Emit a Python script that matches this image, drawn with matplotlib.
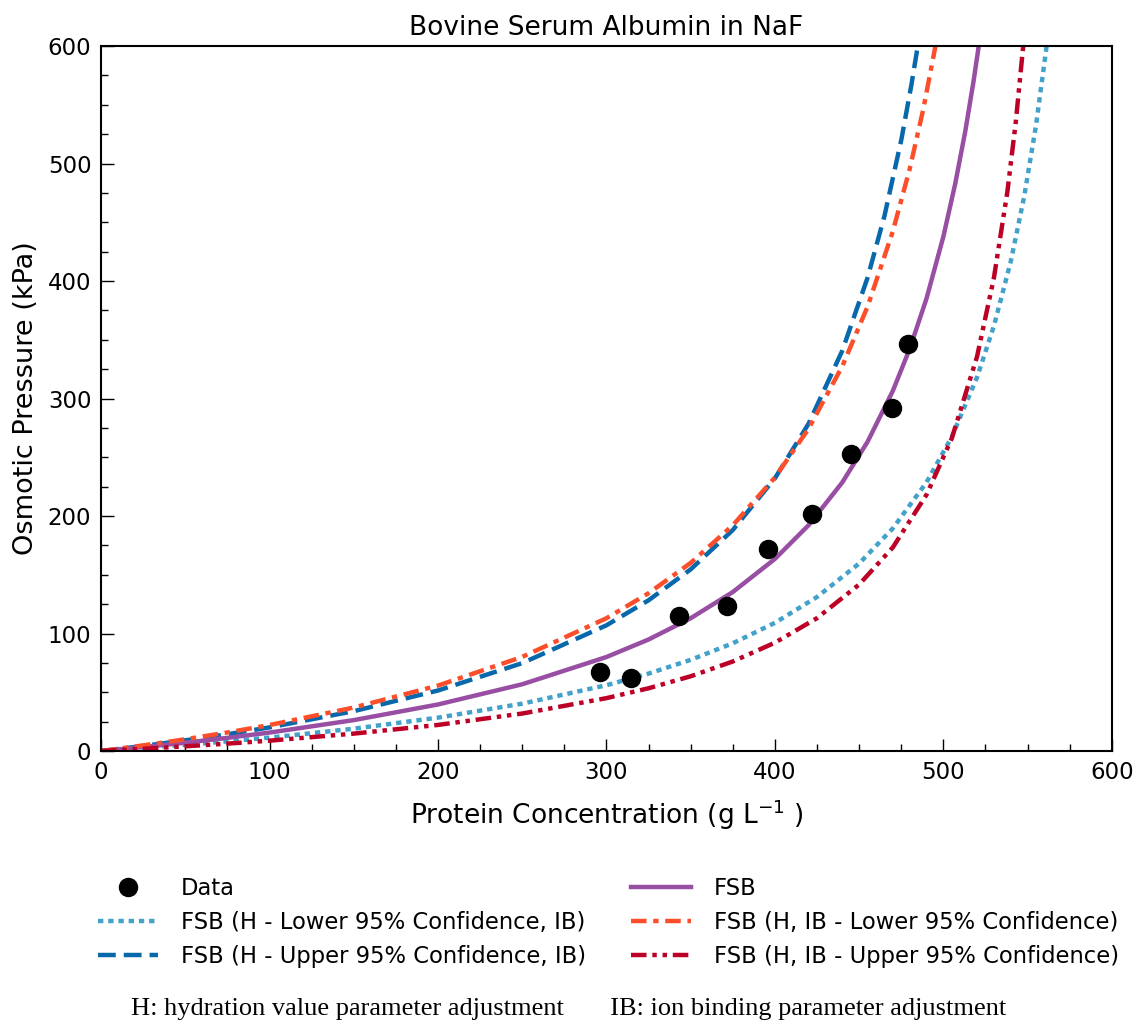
import matplotlib
matplotlib.use('Agg')
import matplotlib.pyplot as plt
from matplotlib.ticker import MultipleLocator

# measured osmotic pressure
data_conc = [296, 314.5, 343, 371.5, 396, 422, 445, 469.5, 479]
data_pres = [67, 62, 115, 123, 172, 202, 253, 292, 346]

# FSB fit
fsb_x = [0, 25, 50, 75, 100, 150, 200, 250, 300, 325, 350, 375, 400, 420, 440, 455,
         470, 480, 490, 500, 507, 513, 518, 521]
fsb_y = [0, 3.4, 7.1, 11.2, 15.7, 26.3, 39.6, 56.8, 80, 94.9, 113, 135.3, 163.5, 192.2,
         228.6, 263.2, 306.5, 342.2, 385.1, 437.8, 482.5, 527.4, 570.8, 600]

# FSB (H - Lower 95% Confidence, IB)
hlow_x = [0, 25, 50, 75, 100, 150, 200, 250, 300, 325, 350, 375, 400, 425, 450, 470,
          490, 505, 520, 530, 540, 548, 555, 561.3]
hlow_y = [0, 2.5, 5.2, 8.2, 11.4, 19, 28.4, 40.3, 56, 65.9, 77.6, 91.7, 109.1, 131.1,
          159.6, 189.5, 228.7, 267.4, 318.1, 361.7, 416.6, 472.1, 532.5, 600]

# FSB (H - Upper 95% Confidence, IB)
hup_x = [0, 25, 50, 75, 100, 150, 200, 250, 300, 325, 350, 375, 400, 420, 440, 455,
         465, 475, 481, 484.8]
hup_y = [0, 4.3, 9.1, 14.3, 20.1, 33.9, 51.5, 74.8, 107, 128.3, 154.6, 188.1, 232.1,
         278.6, 340.7, 402.8, 455.2, 519.9, 566.7, 600]

# FSB (H, IB - Lower 95% Confidence)
iblow_x = [0, 25, 50, 75, 100, 150, 200, 250, 300, 325, 350, 375, 400, 420, 440, 455,
           470, 480, 488, 495.3]
iblow_y = [0, 4.8, 10, 15.8, 22.1, 37, 55.7, 80.1, 113, 134.3, 160.1, 192.1, 232.8,
           274.3, 327.5, 378.2, 442.3, 495.3, 545.7, 600]

# FSB (H, IB - Upper 95% Confidence)
ibup_x = [0, 25, 50, 75, 100, 150, 200, 250, 300, 325, 350, 375, 400, 425, 450, 470,
          490, 505, 520, 530, 538, 543, 547.4]
ibup_y = [0, 1.9, 4, 6.3, 8.8, 14.8, 22.2, 31.9, 45, 53.4, 63.6, 76.2, 92.2, 113.1,
          141.7, 173.3, 218.1, 266.1, 335.7, 402.7, 476, 535.5, 600]


def main():
    plt.rcParams['font.family'] = 'DejaVu Sans'
    fig = plt.figure(figsize=(11.38, 10.25), dpi=100)
    ax = fig.add_axes([0.0888, 0.2673, 0.8882, 0.6878])

    lw = 3.2
    ax.plot(data_conc, data_pres, 'o', color='black', ms=13, label='Data', zorder=5)
    ax.plot(hlow_x, hlow_y, color='#43a2ca', lw=lw, dashes=(1.2, 1.1),
            label='FSB (H - Lower 95% Confidence, IB)')
    ax.plot(hup_x, hup_y, color='#0868ac', lw=lw, dashes=(4, 1.8),
            label='FSB (H - Upper 95% Confidence, IB)')
    ax.plot(fsb_x, fsb_y, color='#984ea3', lw=lw, label='FSB')
    ax.plot(iblow_x, iblow_y, color='#fc4e2a', lw=lw, dashes=(3.5, 1.5, 1.2, 1.5),
            label='FSB (H, IB - Lower 95% Confidence)')
    ax.plot(ibup_x, ibup_y, color='#bd0026', lw=lw, dashes=(3.5, 1.3, 1.0, 1.3, 1.0, 1.3),
            label='FSB (H, IB - Upper 95% Confidence)')

    ax.set_xlim(0, 600)
    ax.set_ylim(0, 600)
    ax.xaxis.set_major_locator(MultipleLocator(100))
    ax.yaxis.set_major_locator(MultipleLocator(100))
    ax.xaxis.set_minor_locator(MultipleLocator(25))
    ax.yaxis.set_minor_locator(MultipleLocator(25))
    ax.tick_params(which='both', direction='in', top=False, right=False, labelsize=16.5)
    ax.tick_params(which='major', length=9, width=1, pad=7)
    ax.tick_params(which='minor', length=5, width=1)
    for s in ax.spines.values():
        s.set_linewidth(1.5)

    ax.set_title('Bovine Serum Albumin in NaF', fontsize=19, pad=8)
    ax.set_xlabel('Protein Concentration (g L$^{-1}$ )', fontsize=19, labelpad=10)
    ax.set_ylabel('Osmotic Pressure (kPa)', fontsize=19.5, labelpad=6)

    handles, labels = ax.get_legend_handles_labels()
    fig.legend(handles, labels,
               loc='upper center', bbox_to_anchor=(0.535, 0.164), ncol=2,
               frameon=False, fontsize=16.3, numpoints=1, handlelength=2.65,
               columnspacing=2.0, labelspacing=0.48, handletextpad=1.0)

    fig.text(0.5, 0.005, 'H: hydration value parameter adjustment       IB: ion binding parameter adjustment',
             ha='center', va='bottom', fontsize=19, family='Liberation Serif')

    fig.savefig('out.png', dpi=100)


if __name__ == '__main__':
    main()
